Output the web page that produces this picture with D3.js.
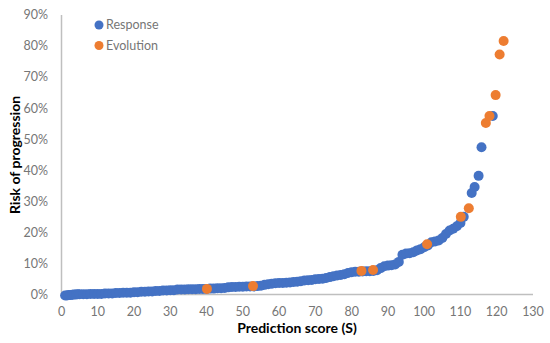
<!DOCTYPE html>
<html>
<head>
<meta charset="utf-8">
<script src="https://cdn.jsdelivr.net/npm/d3@7"></script>
<style>
  html, body { margin: 0; padding: 0; background: #fff; }
  svg { display: block; }
</style>
</head>
<body>
<svg id="chart" width="550" height="343"></svg>
<script>
// Response series: prediction score (S) and risk of progression (%)
const responseX = [1,1.5,2,2.5,3,3.5,4,4.5,5,6,7,8,9,10,11,12,13,14,15,16,17,18,19,20,21,22,23,24,25,26,27,28,29,30,31,32,33,34,35,36,37,38,39,40,41,42,43,44,45,46,47,48,49,50,51,52,53,54,55,56,57,58,59,60,61,62,63,64,65,66,67,68,69,70,71,72,73,74,75,76,77,78,79,80,81,82,83,84,85,86,87,88,89,90,91,92,93,94,95,96,97,98,99,100,101,102,103,104,105,106,107,108,109,110,110.9,113.1,113.9,115,115.8,118.9];
const responseY = [-0.3,-0.3,-0.2,-0.2,-0.1,0,0,0.1,0.1,0.1,0.1,0.2,0.2,0.2,0.2,0.3,0.3,0.3,0.5,0.5,0.6,0.6,0.6,0.7,0.7,0.9,0.9,1.0,1.0,1.1,1.1,1.3,1.3,1.4,1.4,1.6,1.6,1.6,1.7,1.7,1.7,1.8,1.8,1.8,1.9,1.9,2.0,2.0,2.1,2.3,2.4,2.4,2.5,2.5,2.6,2.6,2.6,2.7,2.8,3.1,3.3,3.5,3.6,3.7,3.7,3.8,3.9,4.0,4.1,4.3,4.5,4.6,4.7,4.9,5.0,5.1,5.3,5.6,5.9,6.1,6.3,6.5,6.9,7.2,7.3,7.3,7.4,7.5,7.5,7.6,7.8,8.5,9.1,9.3,9.4,9.7,10.5,12.8,13.2,13.3,13.6,14.2,14.6,15.2,15.8,16.8,17.1,17.4,18.2,19.5,20.6,21.2,22.0,23.0,25.0,32.7,34.6,38.2,47.4,57.5];
// Evolution series
const evolutionX = [40.1,52.8,82.7,85.9,100.8,110.1,112.3,117,118,119.7,120.8,121.9];
const evolutionY = [1.8,2.7,7.6,7.9,16.2,25.0,27.8,55.2,57.5,64.2,77.3,81.6];
// Axis ticks
const xTicks = [0,10,20,30,40,50,60,70,80,90,100,110,120,130];
const yTicks = [0,10,20,30,40,50,60,70,80,90];
const seriesNames = ["Response","Evolution"];
const seriesColors = ["#4472C4","#ED7D31"];

const svg = d3.select("#chart");
const x = d3.scaleLinear().domain([0,130]).range([61.5,533]);
const y = d3.scaleLinear().domain([0,90]).range([294.5,15]);
const font = "Lato, 'Open Sans', sans-serif";
const grey = "#767676";

// axis lines
svg.append("line").attr("x1",x(0)).attr("x2",x(0)).attr("y1",y(90)).attr("y2",y(0))
  .attr("stroke","#bfbfbf").attr("stroke-width",1.5);
svg.append("line").attr("x1",x(0)).attr("x2",x(130)).attr("y1",y(0)).attr("y2",y(0))
  .attr("stroke","#bfbfbf").attr("stroke-width",1.5);

// y tick labels
svg.append("g").selectAll("text").data(yTicks).join("text")
  .attr("x",48).attr("y",d=>y(d)).attr("dy","0.35em")
  .attr("text-anchor","end").attr("font-family",font).attr("font-size",12.5)
  .attr("fill",grey).text(d=>d+"%");

// x tick labels
svg.append("g").selectAll("text").data(xTicks).join("text")
  .attr("x",d=>x(d)).attr("y",312).attr("dy","0.35em")
  .attr("text-anchor","middle").attr("font-family",font).attr("font-size",12.5)
  .attr("fill",grey).text(d=>d);

// axis titles
svg.append("text").attr("x",297).attr("y",328).attr("dy","0.35em")
  .attr("text-anchor","middle").attr("font-family",font).attr("font-size",14)
  .attr("font-weight","bold").attr("fill","#000").text("Prediction score (S)");
svg.append("text").attr("transform","translate(15,155) rotate(-90)").attr("dy","0.35em")
  .attr("text-anchor","middle").attr("font-family",font).attr("font-size",14)
  .attr("font-weight","bold").attr("fill","#000").text("Risk of progression");

// points
const resp = responseX.map((v,i)=>({x:v,y:responseY[i]}));
const evo = evolutionX.map((v,i)=>({x:v,y:evolutionY[i]}));
svg.append("g").selectAll("circle").data(resp).join("circle")
  .attr("cx",d=>x(d.x)).attr("cy",d=>y(d.y)).attr("r",5).attr("fill",seriesColors[0]);
svg.append("g").selectAll("circle").data(evo).join("circle")
  .attr("cx",d=>x(d.x)).attr("cy",d=>y(d.y)).attr("r",5).attr("fill",seriesColors[1]);

// legend
const lg = svg.append("g").selectAll("g").data(seriesNames).join("g")
  .attr("transform",(d,i)=>`translate(99,${25+i*20.5})`);
lg.append("circle").attr("r",4.5).attr("fill",(d,i)=>seriesColors[i]);
lg.append("text").attr("x",7).attr("dy","0.35em").attr("font-family",font)
  .attr("font-size",12.5).attr("fill",grey).text(d=>d);
</script>
</body>
</html>
